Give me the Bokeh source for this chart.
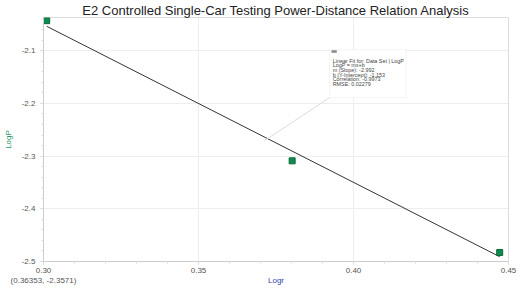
from bokeh.plotting import figure
from bokeh.models import Range1d, Label, BoxAnnotation, Title, FixedTicker
from bokeh.embed import file_html
from bokeh.resources import INLINE

# data
logr = [0.30103, 0.38021, 0.44716]
logp = [-2.043, -2.309, -2.483]
slope = -2.992
intercept = -1.153
fit_x = [logr[0], logr[-1]]
fit_y = [slope * x + intercept for x in fit_x]
x_ticks = [0.30, 0.35, 0.40, 0.45]
y_ticks = [-2.5, -2.4, -2.3, -2.2, -2.1]
readout = "(0.36353, -2.3571)"
fit_lines = ["Linear Fit for: Data Set | LogP", "LogP = mx+b", "m (Slope): -2.992",
             "b (Y-Intercept): -1.153", "Correlation: -0.9973", "RMSE: 0.02279"]

p = figure(width=524, height=289, output_backend="svg", toolbar_location=None,
           x_range=Range1d(0.30, 0.45), y_range=Range1d(-2.5, -2.037),
           min_border_left=40, min_border_right=16, min_border_top=17, min_border_bottom=28)
p.title = None
p.add_layout(Title(text="E2 Controlled Single-Car Testing Power-Distance Relation Analysis",
                   text_font="Liberation Sans", text_font_size="13px", text_font_style="normal",
                   text_color="#222222", align="center", offset=0, standoff=0), "above")
p.outline_line_color = "#dddddd"
p.background_fill_color = "white"
p.border_fill_color = "white"

for ax in (p.xaxis[0], p.yaxis[0]):
    ax.axis_line_color = "#cccccc"
    ax.major_tick_line_color = "#cccccc"
    ax.minor_tick_line_color = "#dddddd"
    ax.major_label_text_font = "Liberation Sans"
    ax.major_label_text_font_size = "8px"
    ax.major_label_text_color = "#555555"
    ax.axis_label_text_font = "Liberation Sans"
    ax.axis_label_text_font_size = "8px"
    ax.axis_label_text_font_style = "normal"
    ax.major_tick_in = 0
    ax.major_tick_out = 3
    ax.minor_tick_in = 0
    ax.minor_tick_out = 2

p.xaxis.ticker = FixedTicker(ticks=x_ticks, minor_ticks=[0.30 + i * 0.01 for i in range(16)])
p.yaxis.ticker = FixedTicker(ticks=y_ticks, minor_ticks=[-2.5 + i * 0.02 for i in range(24)])
xl = {t: f"{t:.2f}" for t in x_ticks}
xl[x_ticks[0]] = xl[x_ticks[0]] + "\n" + readout
p.xaxis.major_label_overrides = xl
p.xaxis.major_label_standoff = 1
p.yaxis.major_label_overrides = {t: f"{t:.1f}" for t in y_ticks}
p.xaxis.axis_label = "Logr"
p.xaxis.axis_label_text_color = "#3344aa"
p.xaxis.axis_label_standoff = -12
p.yaxis.axis_label = "LogP"
p.yaxis.axis_label_text_color = "#229966"
p.yaxis.axis_label_standoff = 6

p.xgrid.grid_line_color = "#eeeeee"
p.ygrid.grid_line_color = "#eeeeee"
p.xgrid.ticker = p.xaxis.ticker
p.ygrid.ticker = p.yaxis.ticker

# fit line
p.line(fit_x, fit_y, line_color="#333333", line_width=1)
# data points
p.scatter(logr, logp, marker="square", size=6, fill_color="#108a50", line_color="#0b6b3c")

# leader line from annotation box to fit line
p.line([0.3923, 0.3712], [-2.189, -2.271], line_color="#dddddd", line_width=1)

# annotation box
p.add_layout(BoxAnnotation(left=0.3923, right=0.4170, top=-2.098, bottom=-2.189,
                           fill_color="white", fill_alpha=1, line_color="#dddddd", line_width=1))
p.add_layout(BoxAnnotation(left=0.3929, right=0.3946, top=-2.099, bottom=-2.104,
                           fill_color="#888888", fill_alpha=1, line_color=None))
for i, t in enumerate(fit_lines):
    p.add_layout(Label(x=0.3933, y=-2.119 - i * 0.0088, text=t, text_font="Liberation Sans",
                       text_font_size="5.4px", text_color="#444444", text_baseline="middle"))

open("out.html", "w").write(file_html(p, INLINE))
